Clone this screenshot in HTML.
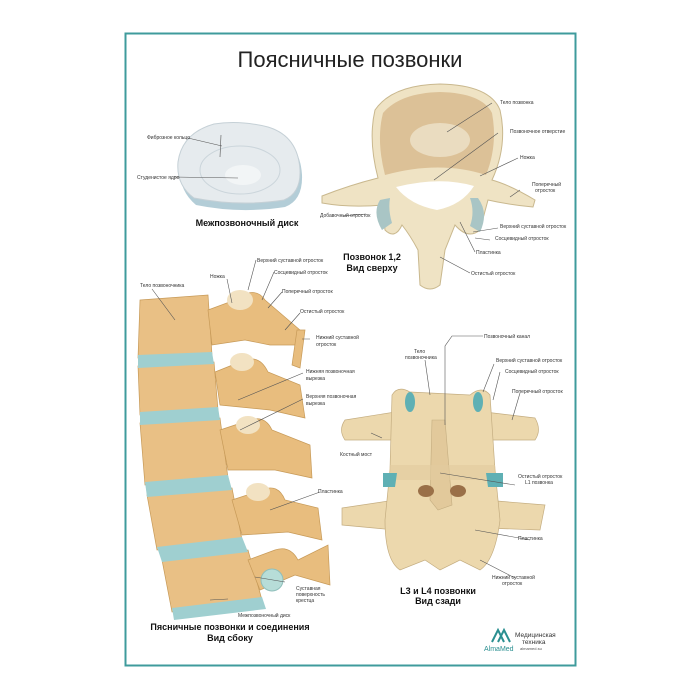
<!DOCTYPE html>
<html><head><meta charset="utf-8"><style>
body{margin:0;background:#fff;}
svg{display:block;font-family:"Liberation Sans",sans-serif;}
.l{font-size:5px;fill:#333;}
.h{font-size:9px;font-weight:bold;fill:#111;}
.ln{stroke:#555;stroke-width:0.6;fill:none;}
</style></head><body>
<svg width="700" height="700" viewBox="0 0 700 700">
<rect x="0" y="0" width="700" height="700" fill="#fff"/>
<rect x="125.5" y="33.5" width="450" height="632" fill="none" stroke="#3f9b9c" stroke-width="2"/>
<text x="350" y="67" text-anchor="middle" font-size="22" fill="#222">Поясничные позвонки</text>

<!-- disc -->
<path d="M196,205 Q178,190 180,165 Q184,135 215,127 Q240,123 268,130 Q300,140 302,175 Q303,200 285,207 Q240,214 196,205Z" fill="#b3cdd7"/>
<path d="M194,198 Q176,185 178,162 Q182,133 214,124 Q240,120 268,127 Q298,136 300,170 Q301,193 284,200 Q240,207 194,198Z" fill="#e6ebee" stroke="#c5d0d6"/>
<ellipse cx="240" cy="170" rx="40" ry="24" fill="none" stroke="#cbd5db"/>
<ellipse cx="243" cy="175" rx="18" ry="10" fill="#f2f5f6"/>
<path class="ln" d="M188,138 L222,146 M221,135 L220,157 M174,177 L238,178"/>
<text class="l" x="147" y="139">Фиброзное кольцо</text>
<text class="l" x="137" y="179">Студенистое ядро</text>
<text class="h" x="247" y="226" text-anchor="middle">Межпозвоночный диск</text>

<!-- top vertebra -->
<path d="M378,178 Q368,140 375,110 Q392,85 440,84 Q490,85 500,110 Q508,145 492,180 Q510,185 535,200 L533,207 Q510,205 488,200 L480,230 Q468,240 455,225 L445,250 L440,285 Q430,293 420,285 L418,250 Q410,235 402,225 Q395,240 385,230 L383,205 Q350,208 322,203 L322,196 Q350,185 378,178Z" fill="#efe3c4" stroke="#c9b88e"/>
<path d="M385,175 Q376,140 383,113 Q400,93 440,92 Q482,93 492,113 Q498,145 486,175 Q440,160 385,175Z" fill="#dcc197"/>
<ellipse cx="440" cy="140" rx="30" ry="17" fill="#eadcc0"/>
<path d="M396,187 Q440,176 474,186 Q462,205 437,210 Q410,205 396,187Z" fill="#fff"/>
<path d="M380,200 Q372,213 382,230 L392,223 Q388,210 390,198Z M478,198 Q489,213 480,232 L470,226 Q475,212 470,198Z" fill="#a9c5c5"/>
<path class="ln" d="M492,103 L447,132 M498,133 L434,180 M518,158 L480,176 M520,190 L510,197 M473,232 L498,228 M475,238 L490,240 M460,222 L475,252 M440,257 L470,273 M343,216 L366,214"/>
<text class="l" x="500" y="104">Тело позвонка</text>
<text class="l" x="510" y="133">Позвоночное отверстие</text>
<text class="l" x="520" y="159">Ножка</text>
<text class="l" x="532" y="186">Поперечный</text><text class="l" x="535" y="192">отросток</text>
<text class="l" x="500" y="228">Верхний суставной отросток</text>
<text class="l" x="495" y="240">Сосцевидный отросток</text>
<text class="l" x="476" y="254">Пластинка</text>
<text class="l" x="471" y="275">Остистый отросток</text>
<text class="l" x="320" y="217">Добавочный отросток</text>
<text class="h" x="372" y="260" text-anchor="middle">Позвонок 1,2</text>
<text class="h" x="372" y="271" text-anchor="middle">Вид сверху</text>

<!-- side view column -->
<g fill="#e9c085" stroke="#c79a58" stroke-width="0.7">
<path d="M140,300 L208,295 L212,355 L138,358Z"/>
<path d="M138,366 L214,362 L218,410 L140,415Z"/>
<path d="M140,423 L220,418 L228,478 L145,485Z"/>
<path d="M147,495 L232,488 L242,540 L157,550Z"/>
<path d="M162,560 L248,550 L262,600 L172,612Z"/>
</g>
<g fill="#9fcfd0">
<path d="M138,355 L212,352 L214,364 L138,368Z"/>
<path d="M140,412 L218,407 L220,420 L140,425Z"/>
<path d="M145,482 L228,475 L232,490 L147,497Z"/>
<path d="M157,547 L242,537 L248,552 L162,562Z"/>
<path d="M172,608 L262,597 L266,609 L174,620Z"/>
</g>
<g fill="#e8bd7e" stroke="#c79a58" stroke-width="0.7">
<path d="M208,310 L235,300 Q255,285 265,300 L300,330 L300,345 L270,345 L245,340 L212,345Z"/>
<path d="M297,330 L305,330 L300,368 L292,365Z"/>
<path d="M215,372 L245,360 Q260,355 268,372 L300,385 L305,418 L270,410 L220,405Z"/>
<path d="M220,430 L250,420 Q265,415 272,430 L310,445 L312,478 L275,470 L228,470Z"/>
<path d="M232,500 L262,490 Q278,483 285,500 L318,508 L322,540 L288,532 L242,535Z"/>
<path d="M248,560 L275,550 Q290,545 298,560 L328,545 L330,585 L295,575 L260,590Z"/>
</g>
<circle cx="272" cy="580" r="11" fill="#b7ddd8" stroke="#8fbfbb"/>
<g fill="#f2e2c2"><ellipse cx="240" cy="300" rx="13" ry="10"/><ellipse cx="242" cy="362" rx="12" ry="9"/><ellipse cx="248" cy="425" rx="12" ry="9"/><ellipse cx="258" cy="492" rx="12" ry="9"/></g>
<path class="ln" d="M152,289 L175,320 M227,279 L232,303 M256,260 L248,290 M274,272 L262,300 M282,292 L268,308 M300,313 L285,330 M310,339 L302,339 M303,373 L238,400 M303,399 L240,430 M320,492 L270,510 M255,577 L285,582 M228,599 L210,600"/>
<text class="l" x="140" y="287">Тело позвоночника</text>
<text class="l" x="210" y="278">Ножка</text>
<text class="l" x="257" y="262">Верхний суставной отросток</text>
<text class="l" x="274" y="274">Сосцевидный отросток</text>
<text class="l" x="282" y="293">Поперечный отросток</text>
<text class="l" x="300" y="313">Остистый отросток</text>
<text class="l" x="316" y="339">Нижний суставной</text><text class="l" x="316" y="346">отросток</text>
<text class="l" x="306" y="373">Нижняя позвоночная</text><text class="l" x="306" y="380">вырезка</text>
<text class="l" x="306" y="398">Верхняя позвоночная</text><text class="l" x="306" y="405">вырезка</text>
<text class="l" x="318" y="493">Пластинка</text>
<text class="l" x="296" y="590">Суставная</text><text class="l" x="296" y="596">поверхность</text><text class="l" x="296" y="602">крестца</text>
<text class="l" x="238" y="617">Межпозвоночный диск</text>
<text class="h" x="230" y="630" text-anchor="middle">Пясничные позвонки и соединения</text>
<text class="h" x="230" y="641" text-anchor="middle">Вид сбоку</text>

<!-- back view -->
<g fill="#ecd8ad" stroke="#c4ad80" stroke-width="0.7">
<path d="M345,420 L395,412 L395,440 L345,440 Q338,430 345,420Z"/>
<path d="M485,412 L535,418 Q542,430 535,440 L485,440Z"/>
<path d="M342,508 L395,500 L395,530 L342,525Z"/>
<path d="M485,500 L545,505 L540,530 L485,528Z"/>
<path d="M392,395 Q398,385 410,392 L470,395 Q482,385 490,395 L495,470 L500,520 Q495,560 480,570 L460,560 L440,570 L425,560 L400,570 Q385,560 385,520 L390,470Z"/>
</g>
<path d="M432,420 L445,420 L452,505 L438,510 L430,500Z" fill="#e2c99b" stroke="#c4ad80" stroke-width="0.6"/>
<path d="M390,465 L495,465 L497,480 L388,480Z" fill="#e3cb9e" opacity="0.6"/>
<g fill="#5fb0b4"><ellipse cx="410" cy="402" rx="5" ry="10"/><ellipse cx="478" cy="402" rx="5" ry="10"/><path d="M383,473 L397,473 L395,487 L383,487Z"/><path d="M486,473 L503,473 L503,487 L488,487Z"/></g>
<g fill="#9a7048"><ellipse cx="426" cy="491" rx="8" ry="6"/><ellipse cx="458" cy="491" rx="8" ry="6"/></g>
<path class="ln" d="M483,336 L452,336 L445,346 L445,425 M425,360 L430,395 M494,364 L483,392 M500,372 L493,400 M520,393 L512,420 M371,433 L382,438 M440,473 L515,485 M475,530 L530,540 M480,560 L515,578"/>
<text class="l" x="484" y="338">Позвоночный канал</text>
<text class="l" x="414" y="353">Тело</text><text class="l" x="405" y="359">позвоночника</text>
<text class="l" x="496" y="362">Верхний суставной отросток</text>
<text class="l" x="505" y="373">Сосцевидный отросток</text>
<text class="l" x="512" y="393">Поперечный отросток</text>
<text class="l" x="340" y="456">Костный мост</text>
<text class="l" x="518" y="478">Остистый отросток</text><text class="l" x="525" y="484">L1 позвонка</text>
<text class="l" x="518" y="540">Пластинка</text>
<text class="l" x="492" y="579">Нижний суставной</text><text class="l" x="502" y="585">отросток</text>
<text class="h" x="438" y="594" text-anchor="middle">L3 и L4 позвонки</text>
<text class="h" x="438" y="604" text-anchor="middle">Вид сзади</text>

<!-- logo -->
<path d="M492,642 L498,630 L504,642 M498,642 L504,630 L510,642" fill="none" stroke="#2a8f90" stroke-width="2"/>
<text x="484" y="651" font-size="7" fill="#2a8f90">AlmaMed</text>
<text x="515" y="637" font-size="6.5" fill="#333">Медицинская</text>
<text x="522" y="644" font-size="6.5" fill="#333">техника</text>
<text x="520" y="650" font-size="4" fill="#555">almamed.su</text>
</svg>
</body></html>
